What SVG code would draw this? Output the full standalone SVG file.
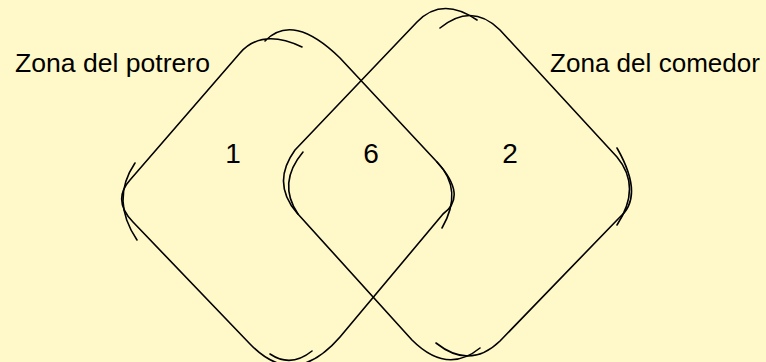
<svg xmlns="http://www.w3.org/2000/svg" width="766" height="362" viewBox="0 0 766 362">
  <style>
    .bg { fill: #FFF9C9; }
    .outline { fill: none; stroke: #000000; stroke-width: 1.6; stroke-linecap: round; stroke-linejoin: round; }
    .label { font-family: "Liberation Sans", Arial, sans-serif; font-size: 26.5px; fill: #000000; }
    .num { font-family: "Liberation Sans", Arial, sans-serif; font-size: 28px; fill: #000000; text-anchor: middle; }
  </style>
  <rect class="bg" x="0" y="0" width="766" height="362"/>

  <g id="zona-potrero">
    <path class="outline" d="M265,41 Q293,12 340,58 L437,162 Q468,196 443,214 L340,337 Q294,390 250,344 L133,222 Q112,200 130,180 L240,53 Q262,28 302,47"/>
    <path class="outline" d="M437,162 Q464,190 442,228"/>
    <path class="outline" d="M270,354 Q291,368 312,351"/>
    <path class="outline" d="M135,163 Q110,200 137,240"/>
  </g>

  <g id="zona-comedor">
    <path class="outline" d="M440,28 Q472,2 500,30 L617,157 Q642,187 617,225"/>
    <path class="outline" d="M617,148 Q645,197 619,218 L500,341 Q470,370 436,343"/>
    <path class="outline" d="M480,348 Q447,375 412,340 L297,213 Q271,183 295,150 L417,22 Q442,-4 477,20"/>
    <path class="outline" d="M303,152 Q277,183 298,214"/>
  </g>

  <g id="label-potrero">
    <text class="label" x="15" y="72" textLength="195" lengthAdjust="spacingAndGlyphs">Zona del potrero</text>
  </g>
  <g id="label-comedor">
    <text class="label" x="550" y="72" textLength="210" lengthAdjust="spacingAndGlyphs">Zona del comedor</text>
  </g>
  <g id="count-1">
    <text class="num" x="233" y="163">1</text>
  </g>
  <g id="count-6">
    <text class="num" x="371" y="163">6</text>
  </g>
  <g id="count-2">
    <text class="num" x="510" y="163">2</text>
  </g>

  <g id="connectors"/>
</svg>
